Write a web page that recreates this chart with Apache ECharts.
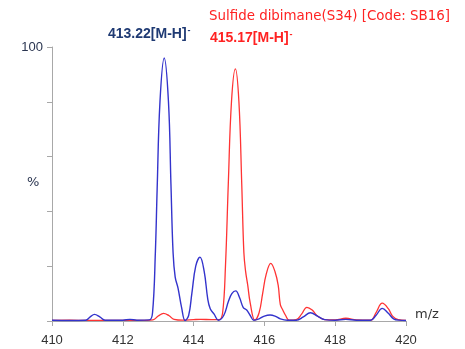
<!DOCTYPE html>
<html><head><meta charset="utf-8">
<script src="https://cdn.jsdelivr.net/npm/echarts@6/dist/echarts.min.js"></script>
<style>html,body{margin:0;padding:0;background:#fff}#c{width:465px;height:349px}</style>
</head><body><div id="c"></div>
<script>
const xTicks = [410, 412, 414, 416, 418, 420];
const yTicks = [0, 20, 40, 60, 80, 100];
const titleText = 'Sulfide dibimane(S34) [Code: SB16]';
const blueLabel = '413.22[M-H]';
const redLabel = '415.17[M-H]';
const blueSeries = [[410.0,0.3],[410.5,0.2],[410.95,0.3],[411.08,1.5],[411.2,2.4],[411.35,1.5],[411.5,0.3],[412.0,0.3],[412.2,0.6],[412.4,0.3],[412.75,0.4],[412.84,3],[412.92,25],[412.97,48],[413.05,80],[413.17,96],[413.29,80],[413.36,50],[413.42,25],[413.48,16],[413.56,12],[413.66,5],[413.76,0.2],[413.86,2],[413.95,10],[414.06,20],[414.18,23.3],[414.3,18],[414.4,8],[414.47,4.5],[414.58,2.5],[414.7,0.3],[414.85,2],[414.98,7],[415.08,10],[415.19,11],[415.3,8.5],[415.4,5],[415.5,4],[415.6,2],[415.7,0.3],[415.85,0.8],[416.0,1.8],[416.16,2.2],[416.3,1.8],[416.45,0.8],[416.65,0.3],[416.9,0.3],[417.1,1.5],[417.3,3],[417.5,1.8],[417.7,0.5],[418.0,0.3],[418.3,0.6],[418.6,0.3],[419.0,0.3],[419.15,2],[419.33,4.6],[419.5,2.8],[419.65,0.8],[419.8,0.3],[420.0,0.2]];
const redSeries = [[410.0,0.2],[410.5,0.3],[411.0,0.2],[411.5,0.2],[412.0,0.2],[412.5,0.2],[412.85,0.4],[413.0,1.8],[413.15,2.8],[413.3,2],[413.45,0.6],[413.7,0.3],[414.0,0.5],[414.2,0.6],[414.5,0.5],[414.72,0.5],[414.82,3],[414.9,20],[414.98,50],[415.07,80],[415.18,92],[415.28,80],[415.36,50],[415.42,25],[415.47,18],[415.53,13],[415.6,6.5],[415.73,0.3],[415.85,3],[415.95,10],[416.05,17],[416.18,21],[416.3,18],[416.39,13],[416.45,6],[416.52,4],[416.6,2],[416.7,0.3],[416.9,0.5],[417.05,2.5],[417.2,5],[417.35,4],[417.5,1.8],[417.7,0.5],[418.0,0.4],[418.3,1],[418.6,0.4],[419.0,0.3],[419.15,3],[419.33,6.5],[419.5,4.5],[419.62,1.8],[419.78,0.5],[420.0,0.2]];

const chart = echarts.init(document.getElementById('c'), null, {renderer:'canvas'});
const FF = 'Liberation Sans, Arial, sans-serif';
const FD = 'DejaVu Sans, Verdana, sans-serif';
chart.setOption({
  animation:false,
  grid:{left:52,right:59,top:47,bottom:28},
  xAxis:{type:'value',min:xTicks[0],max:xTicks[xTicks.length-1],interval:2,
    axisLine:{lineStyle:{color:'#a8a8a8',width:1}},
    axisTick:{show:true,length:5,lineStyle:{color:'#a8a8a8'}},
    axisLabel:{color:'#333',fontSize:13,fontFamily:FF,margin:13},
    splitLine:{show:false}},
  yAxis:{type:'value',min:yTicks[0],max:yTicks[yTicks.length-1],interval:20,
    axisLine:{show:true,lineStyle:{color:'#a8a8a8',width:1}},
    axisTick:{show:true,length:5,lineStyle:{color:'#a8a8a8'}},
    axisLabel:{color:'#2a3550',fontSize:13,fontFamily:FF,margin:9,
      formatter:v=>v===100?'100':''},
    splitLine:{show:false}},
  series:[
    {type:'line',data:redSeries,smooth:0.4,showSymbol:false,lineStyle:{color:'#ff3333',width:1.3},z:2},
    {type:'line',data:blueSeries,smooth:0.4,showSymbol:false,lineStyle:{color:'#3333cc',width:1.4},z:3}
  ],
  graphic:[
    {type:'text',left:209,top:10,style:{text:titleText,fill:'#ff2222',font:'13.4px '+FD}},
    {type:'text',left:108,top:26,style:{text:'{a|'+blueLabel+'}{s|-}',rich:{
      a:{fill:'#1f3a73',font:'bold 14px '+FF},
      s:{fill:'#1f3a73',font:'bold 9px '+FF,verticalAlign:'top',padding:[0,0,8,1]}}}},
    {type:'text',left:210,top:30,style:{text:'{a|'+redLabel+'}{s|-}',rich:{
      a:{fill:'#ff2222',font:'bold 14px '+FF},
      s:{fill:'#ff2222',font:'bold 9px '+FF,verticalAlign:'top',padding:[0,0,8,1]}}}},
    {type:'text',left:27,top:176,style:{text:'%',fill:'#2a3550',font:'13px '+FD}},
    {type:'text',left:415,top:308,style:{text:'m/z',fill:'#333',font:'13px '+FD}}
  ]
});
</script></body></html>
